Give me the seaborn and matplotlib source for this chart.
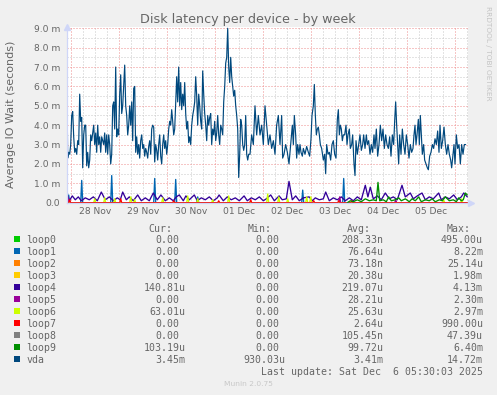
import numpy as np
import pandas as pd
import matplotlib
matplotlib.use("Agg")
import matplotlib.pyplot as plt
import seaborn as sns
from matplotlib.patches import Rectangle
from matplotlib.ticker import MultipleLocator, NullFormatter

# ---------------------------------------------------------------- data
title = "Disk latency per device - by week"
y_label = "Average IO Wait (seconds)"

# x axis: hours relative to 01 Dec 00:00
day_labels = ["28 Nov", "29 Nov", "30 Nov", "01 Dec", "02 Dec", "03 Dec", "04 Dec", "05 Dec"]
day_noon_hours = [-60, -36, -12, 12, 36, 60, 84, 108]
y_ticks = [0, 1, 2, 3, 4, 5, 6, 7, 8, 9]
y_tick_labels = ["0.0", "1.0 m", "2.0 m", "3.0 m", "4.0 m", "5.0 m", "6.0 m", "7.0 m", "8.0 m", "9.0 m"]

window_start_h = -74.3
window_end_h = 126.2
sample_step_h = 0.5

# vda average latency (milliseconds), 30-min samples from window start
vda_a = [7.1, 2.3, 2.6, 2.5, 3.0, 4.5, 4.7, 3.4, 2.6, 2.8,
         2.5, 3.2, 3.0, 5.6, 4.2, 4.4, 1.8, 3.5, 4.0, 4.0,
         1.9, 2.6, 1.8, 2.2, 3.5, 3.2, 3.6, 4.0, 3.0, 3.6,
         2.6, 4.0, 3.0, 3.4, 2.6, 3.4, 3.2, 3.0, 3.6, 2.6,
         3.5, 2.5, 3.5, 3.0, 2.0, 2.5, 5.0, 5.2, 3.8, 7.0,
         3.4, 3.8, 3.5, 5.6, 6.6, 4.6, 5.0, 6.0, 7.1, 5.0,
         4.5, 3.5, 4.0, 5.0, 4.0, 5.2, 3.2, 5.9, 6.0, 2.6,
         3.4, 2.5, 3.0, 2.3, 3.2, 3.5, 2.8, 3.0, 2.4, 2.8,
         2.6, 2.3, 2.9, 3.2, 2.5, 3.8, 4.0, 3.9, 2.1, 3.0,
         2.7, 2.2, 3.0, 3.5, 2.4, 2.0, 3.0, 3.5, 2.8, 3.2,
         2.5, 3.0, 3.8, 4.2, 4.0, 4.8, 4.2, 3.5, 3.8, 5.2,
         6.5, 5.2, 7.0, 5.0, 6.2, 4.8, 5.6, 5.0, 6.2, 4.6,
         3.8, 4.2, 3.1, 3.4, 3.0, 4.0, 4.5, 4.8, 5.2, 6.5,
         5.5, 4.0, 5.6, 5.0, 4.2, 3.8, 6.8, 5.6, 4.6, 4.0,
         3.2, 4.5, 4.0, 4.4, 4.6, 3.0, 3.8, 3.5, 4.2, 3.2,
         3.6, 4.5, 3.5, 3.0, 4.0, 3.8, 3.5, 5.2, 6.0, 7.2,
         7.5, 9.0, 7.0, 6.2, 7.5, 6.5, 6.0, 5.5, 5.8, 5.0,
         4.5, 3.8, 1.3, 2.5, 4.3, 4.0, 3.0, 2.7, 3.0, 4.5,
         2.5, 2.2, 2.5]

vda_b_hours = [17.35, 18.18, 19.02, 19.85, 20.68, 21.52, 22.35, 23.18, 24.02, 24.85,
               25.68, 26.52, 27.35, 28.18, 29.02, 29.85, 30.68, 31.52, 32.35, 33.18,
               33.68, 34.35, 35.18, 36.02, 36.85, 37.68, 38.52, 39.02, 39.52, 40.18,
               40.68, 41.18, 41.85, 42.35, 42.85, 43.52, 44.02, 44.85, 45.68, 46.52,
               47.18, 47.85, 48.35, 49.02, 49.52, 50.02, 50.52, 51.02, 51.52, 52.02,
               52.52, 53.18, 54.02, 54.68, 55.18, 55.68, 56.35, 57.02, 57.68, 58.35,
               59.02, 59.68, 60.35, 61.02, 61.52, 62.02, 62.52, 63.02, 63.52, 64.02,
               64.68, 65.35, 65.85, 66.35, 67.02, 67.52, 68.18, 68.68, 69.35, 69.85,
               70.35, 71.02, 71.68, 72.35, 73.02, 73.68, 74.18, 74.85, 75.52, 76.02,
               76.68, 77.35, 78.02, 78.68, 79.35, 79.85, 80.52, 81.18, 81.85, 82.52,
               83.18, 83.85, 84.52, 85.18, 85.85, 86.52, 87.18, 87.85, 88.52, 89.18,
               89.68, 90.18, 90.68, 91.18, 91.68, 92.18, 92.85, 93.52, 94.18, 94.85,
               95.52, 96.18, 96.85, 97.52, 98.18, 98.85, 99.35, 99.85, 100.35, 100.85,
               101.52, 102.02, 102.52, 103.02, 103.52, 104.18, 104.68, 105.35, 106.02, 106.52,
               107.18, 107.85, 108.52, 109.18, 109.85, 110.52, 111.18, 111.85, 112.35, 113.02,
               113.68, 114.35, 115.02, 115.68, 116.35, 117.02, 117.68, 118.18, 118.85, 119.35,
               119.85, 120.52, 121.18, 121.85, 122.52, 123.18, 123.85, 124.52, 125.18]
vda_b = [2.5, 3.5, 3.0, 5.0, 3.5, 4.5, 3.5, 4.0, 3.0, 5.0,
         4.0, 3.0, 3.5, 2.8, 3.2, 2.5, 4.0, 4.5, 3.0, 4.5,
         2.3, 2.5, 3.0, 2.6, 2.0, 3.0, 4.0, 3.0, 4.5, 3.5,
         2.3, 3.0, 2.5, 3.0, 2.6, 2.4, 2.8, 2.5, 2.9, 2.6,
         2.4, 3.3, 4.5, 5.0, 6.1, 4.5, 3.5, 3.8, 3.9, 3.5,
         3.0, 2.8, 2.2, 2.5, 1.5, 3.0, 2.5, 2.6, 2.2, 3.0,
         3.2, 2.5, 2.3, 4.3, 4.8, 3.5, 4.0, 3.8, 3.2, 3.5,
         3.5, 4.0, 3.0, 3.5, 3.8, 2.8, 3.0, 3.5, 2.0, 1.4,
         3.2, 2.5, 3.0, 3.5, 2.7, 3.0, 3.5, 2.8, 3.5, 3.0,
         3.2, 2.5, 3.0, 2.6, 3.5, 2.8, 3.8, 2.4, 3.0, 4.0,
         3.2, 3.8, 2.8, 3.5, 3.0, 2.8, 3.4, 2.4, 3.5, 3.0,
         4.2, 5.2, 4.0, 3.0, 2.0, 3.5, 2.5, 3.8, 3.0, 2.5,
         3.5, 3.0, 2.3, 3.0, 2.6, 2.8, 3.5, 4.0, 3.0, 3.5,
         4.3, 3.0, 4.5, 3.5, 2.5, 3.0, 2.2, 2.0, 1.8, 1.7,
         2.4, 2.6, 3.0, 2.8, 3.3, 3.0, 3.7, 2.6, 4.0, 2.8,
         3.2, 3.9, 3.0, 2.5, 3.0, 2.5, 2.2, 1.8, 2.5, 3.0,
         2.0, 3.5, 2.8, 3.0, 2.0, 3.0, 2.5, 3.0, 3.0]

# loop4: continuous low-level latency (ms)
loop4_hours = [-74.3, -73, -71.5, -70, -68.5, -67, -65, -63, -61, -59,
               -57, -55, -53, -51, -49, -47.5, -46.3, -44.5, -43, -41,
               -38.8, -37, -35, -33, -31, -29, -27.2, -25, -23, -21,
               -19.5, -18, -16, -14.7, -13, -12, -10.5, -9, -7, -5,
               -3, -1, 1, 1.9, 4, 6, 8, 10, 12, 14.4,
               16, 18, 20, 22, 24, 25.5, 27.7, 29.5, 31.9, 33.5,
               35.5, 36.85, 38.5, 40.2, 42, 44, 46.9, 48.5, 50, 52,
               54, 55.2, 57, 59, 61, 63, 65, 67, 69, 71,
               73, 75, 76.3, 77.5, 79, 81, 83, 85, 87, 89,
               91, 93.35, 95, 97.5, 99, 101, 103.35, 105, 107, 109,
               111.7, 113, 115, 117, 119.2, 121, 123, 124.2, 126]
loop4_vals = [0.5, 0.1, 0.35, 0.15, 0.3, 0.1, 0.25, 0.15, 0.3, 0.1,
              0.55, 0.15, 0.3, 0.1, 0.25, 0.15, 0.55, 0.15, 0.3, 0.1,
              0.4, 0.1, 0.25, 0.1, 0.5, 0.15, 0.4, 0.1, 0.25, 0.1,
              0.3, 0.4, 0.1, 0.35, 0.15, 0.25, 0.4, 0.1, 0.25, 0.15,
              0.3, 0.1, 0.25, 0.4, 0.1, 0.3, 0.15, 0.25, 0.1, 0.35,
              0.1, 0.25, 0.15, 0.3, 0.1, 0.2, 0.4, 0.1, 0.35, 0.15,
              0.2, 1.1, 0.15, 0.35, 0.1, 0.25, 0.3, 0.1, 0.25, 0.15,
              0.2, 0.55, 0.1, 0.25, 0.15, 0.3, 0.1, 0.25, 0.1, 0.3,
              0.15, 0.9, 0.3, 0.8, 0.2, 0.35, 0.15, 0.5, 0.2, 0.3,
              0.15, 0.9, 0.3, 0.5, 0.2, 0.35, 0.5, 0.15, 0.3, 0.2,
              0.5, 0.15, 0.3, 0.2, 0.4, 0.15, 0.3, 0.5, 0.3]

# loop9: device present only in the last days
loop9_hours = [66, 67.5, 69, 71, 73, 75, 77, 79, 80.5, 81.35,
               82.2, 84, 85.5, 86.7, 88, 90, 91.7, 93, 95, 97,
               98.35, 100, 101.7, 103, 105, 107, 108.35, 110, 112, 113.5,
               115, 117, 119, 120.5, 121.7, 123, 124, 125, 126]
loop9_vals = [0.0, 0.1, 0.05, 0.15, 0.05, 0.2, 0.1, 0.15, 0.1, 1.05,
              0.1, 0.15, 0.05, 0.3, 0.1, 0.15, 0.25, 0.1, 0.2, 0.05,
              0.2, 0.1, 0.3, 0.05, 0.15, 0.1, 0.2, 0.05, 0.15, 0.1,
              0.3, 0.1, 0.15, 0.05, 0.25, 0.1, 0.15, 0.5, 0.4]

# sparse loops: zero except for single 30-min samples (hour, ms)
loop1_spike_hours = [-73.5, -66.6, -51.6, -30.5, -19.6, -8.6, 43.9, 64.2]
loop1_spike_vals = [0.4, 1.15, 1.4, 1.25, 1.2, 0.3, 0.65, 1.25]
loop5_spike_hours = [-74.0, 62.0, 90.0]
loop5_spike_vals = [0.3, 0.3, 0.15]
loop6_spike_hours = [-60.5, -55.5, -50.5, -42.3, -40.5, -26.3, -13.8, -9.0, -1.5,
                     6.9, 26.0, 31.5, 36.0, 45.7, 47.7, 114.2, 123.4]
loop6_spike_vals = [0.2, 0.25, 0.2, 0.3, 0.15, 0.25, 0.35, 0.2, 0.15,
                    0.35, 0.45, 0.3, 0.2, 0.3, 0.3, 0.15, 0.2]
loop7_spike_hours = [-73.0, -47.5, -21.0, 1.9, 17.7, 49.4, 61.7, 68.4]
loop7_spike_vals = [0.15, 0.2, 0.1, 0.1, 0.15, 0.1, 0.1, 0.1]
empty_hours = []
empty_vals = []

# legend table
legend_names = ["loop0", "loop1", "loop2", "loop3", "loop4", "loop5",
                "loop6", "loop7", "loop8", "loop9", "vda"]
legend_colors = ["#00CC00", "#0066B3", "#FF8000", "#FFCC00", "#330099", "#990099",
                 "#CCFF00", "#FF0000", "#808080", "#008F00", "#00487D"]
cur_vals = ["0.00", "0.00", "0.00", "0.00", "140.81u", "0.00",
            "63.01u", "0.00", "0.00", "103.19u", "3.45m"]
min_vals = ["0.00", "0.00", "0.00", "0.00", "0.00", "0.00",
            "0.00", "0.00", "0.00", "0.00", "930.03u"]
avg_vals = ["208.33n", "76.64u", "73.18n", "20.38u", "219.07u", "28.21u",
            "25.63u", "2.64u", "105.45n", "99.72u", "3.41m"]
max_vals = ["495.00u", "8.22m", "25.14u", "1.98m", "4.13m", "2.30m",
            "2.97m", "990.00u", "47.39u", "6.40m", "14.72m"]
col_headers = ["Cur:", "Min:", "Avg:", "Max:"]
last_update = "Last update: Sat Dec  6 05:30:03 2025"
footer = "Munin 2.0.75"
watermark = "RRDTOOL / TOBI OETIKER"

# ---------------------------------------------------------------- build frames
n_samples = int(round((window_end_h - window_start_h) / sample_step_h)) + 1
grid_hours = window_start_h + sample_step_h * np.arange(n_samples)


def sparse_series(spike_hours, spike_vals):
    v = np.zeros(n_samples)
    if len(spike_hours):
        idx = np.round((np.asarray(spike_hours) - window_start_h) / sample_step_h).astype(int)
        v[idx] = spike_vals
    return pd.DataFrame({"hour": grid_hours, "ms": v})


vda_df = pd.DataFrame({
    "hour": np.concatenate([window_start_h + sample_step_h * np.arange(len(vda_a)),
                            np.asarray(vda_b_hours)]),
    "ms": np.concatenate([np.asarray(vda_a), np.asarray(vda_b)]),
})

series = {
    "loop0": sparse_series(empty_hours, empty_vals),
    "loop1": sparse_series(loop1_spike_hours, loop1_spike_vals),
    "loop2": sparse_series(empty_hours, empty_vals),
    "loop3": sparse_series(empty_hours, empty_vals),
    "loop4": pd.DataFrame({"hour": loop4_hours, "ms": loop4_vals}),
    "loop5": sparse_series(loop5_spike_hours, loop5_spike_vals),
    "loop6": sparse_series(loop6_spike_hours, loop6_spike_vals),
    "loop7": sparse_series(loop7_spike_hours, loop7_spike_vals),
    "loop8": sparse_series(empty_hours, empty_vals),
    "loop9": pd.DataFrame({"hour": loop9_hours, "ms": loop9_vals}),
    "vda": vda_df,
}

# ---------------------------------------------------------------- style
sns.set_style("white")
plt.rcParams["font.family"] = ["DejaVu Sans"]
FONT = "#666666"
BACK = "#F0F0F0"
AXIS = "#CFD6F8"
MGRID = "#EE8E8E"
GRID = "#C8C8C8"
W, H = 497, 395


def fx(x):
    return x / W


def fy(y):
    return 1 - y / H


fig = plt.figure(figsize=(W / 100, H / 100), dpi=100, facecolor=BACK)
ax_left, ax_right, ax_top, ax_bottom = 66.7, 467.7, 27.3, 202.7
ax = fig.add_axes([fx(ax_left), fy(ax_bottom), (ax_right - ax_left) / W, (ax_bottom - ax_top) / H])
ax.set_facecolor("white")

for name, color in zip(legend_names, legend_colors):
    df = series[name]
    lw = 0.85 if name == "vda" else 0.95
    sns.lineplot(data=df, x="hour", y="ms", ax=ax, color=color, linewidth=lw,
                 estimator=None, sort=False, legend=False, zorder=3)

ax.set_xlim(window_start_h, window_end_h)
ax.set_ylim(0, 9.05)
ax.set_xlabel("")
ax.set_ylabel("")

ax.xaxis.set_major_locator(MultipleLocator(24))
ax.xaxis.set_minor_locator(MultipleLocator(6))
ax.xaxis.set_major_formatter(NullFormatter())
ax.set_yticks(y_ticks, labels=y_tick_labels)
ax.yaxis.set_minor_locator(MultipleLocator(0.5))
ax.tick_params(axis="both", which="major", direction="out", length=2.2, width=0.72, color=MGRID)
ax.tick_params(axis="both", which="minor", direction="out", length=2.2, width=0.72, color=GRID)
ax.tick_params(axis="y", labelsize=6.6, labelcolor=FONT, pad=2.6)

ax.grid(which="minor", color=GRID, linestyle=(0, (1, 2)), linewidth=0.72, zorder=0)
ax.grid(which="major", color=MGRID, linestyle=(0, (1, 2)), linewidth=0.72, zorder=0)
ax.set_axisbelow(True)

for s in ["top", "right"]:
    ax.spines[s].set_visible(False)
for s in ["left", "bottom"]:
    ax.spines[s].set_color(AXIS)
    ax.spines[s].set_linewidth(0.9)
    ax.spines[s].set_zorder(4)

# axis arrows
ax.plot([0], [1.0], transform=ax.transAxes, marker="^", markersize=4.5,
        color=AXIS, clip_on=False, zorder=5)
ax.plot([1.008], [0.0], transform=ax.transAxes, marker=">", markersize=4.5,
        color=AXIS, clip_on=False, zorder=5)

sec = ax.secondary_xaxis("bottom")
sec.set_xticks(day_noon_hours, labels=day_labels)
sec.tick_params(length=0, pad=3.2, labelsize=6.6, labelcolor=FONT)
sec.spines["bottom"].set_visible(False)

# titles
fig.text(fx(248.3), fy(23.3), title, ha="center", va="baseline", fontsize=9.2, color=FONT)
fig.text(fx(11), fy(114), y_label, rotation=90, ha="center", va="center", fontsize=8.0, color=FONT)
fig.text(fx(488), fy(53.5), watermark, rotation=270, ha="center", va="center",
         fontsize=5.3, color="#C4C4C4")

# legend table
mono = "DejaVu Sans Mono"
LFS = 7.1
cw = 5.97
header_x = [148.5, 247.8, 347.2, 446.2]
for hx, htxt in zip(header_x, col_headers):
    fig.text(fx(hx), fy(228.3 + 3.6), htxt, ha="left", va="baseline",
             family=mono, fontsize=LFS, color=FONT)

col_edges = [185.3, 285.3, 383.6, 483.0]
for i, name in enumerate(legend_names):
    yc = 239.3 + 12.0 * i
    fig.add_artist(Rectangle((fx(14), fy(yc + 3)), 6 / W, 6 / H,
                             transform=fig.transFigure, facecolor=legend_colors[i],
                             edgecolor="none"))
    fig.text(fx(26.2), fy(yc + 3.6), name, ha="left", va="baseline",
             family=mono, fontsize=LFS, color=FONT)
    for edge, col in zip(col_edges, [cur_vals, min_vals, avg_vals, max_vals]):
        txt = col[i]
        x = edge if txt[-1].isalpha() else edge - cw
        fig.text(fx(x), fy(yc + 3.6), txt, ha="right", va="baseline",
                 family=mono, fontsize=LFS, color=FONT)

fig.text(fx(483.0), fy(371.3 + 3.6), last_update, ha="right", va="baseline",
         family=mono, fontsize=LFS, color=FONT)
fig.text(fx(248), fy(384), footer, ha="center", va="center", fontsize=5.4, color="#C8C8C8")

fig.savefig("out.png", dpi=100, facecolor=BACK)
